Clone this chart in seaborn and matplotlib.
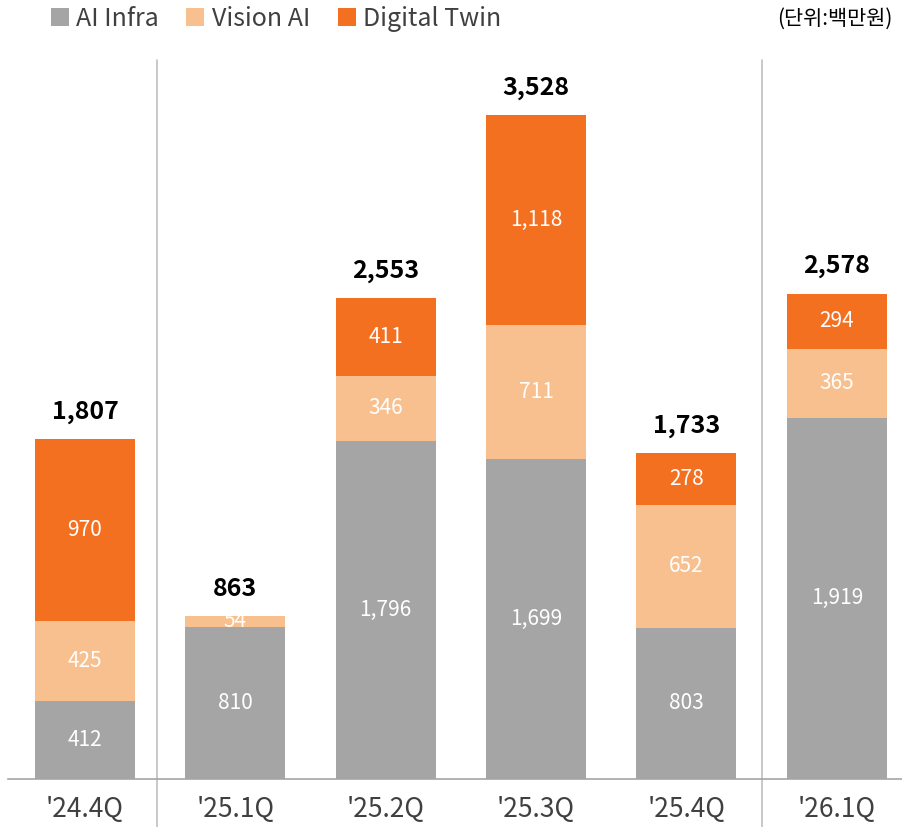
import numpy as np
import pandas as pd
import matplotlib
matplotlib.use("Agg")
import matplotlib.pyplot as plt
from matplotlib.patches import Patch
import seaborn as sns

# data (unit: million KRW)
quarters = ["'24.4Q", "'25.1Q", "'25.2Q", "'25.3Q", "'25.4Q", "'26.1Q"]
ai_infra = [412, 810, 1796, 1699, 803, 1919]
vision_ai = [425, 54, 346, 711, 652, 365]
digital_twin = [970, 0, 411, 1118, 278, 294]
totals = [1807, 863, 2553, 3528, 1733, 2578]

series_names = ["AI Infra", "Vision AI", "Digital Twin"]
colors = ["#A5A5A5", "#F9C08F", "#F37021"]

sns.set_theme(style="white")
plt.rcParams["font.family"] = ["Noto Sans CJK KR", "DejaVu Sans"]

fig = plt.figure(figsize=(9.03, 8.27), dpi=100)
ax = fig.add_axes([8 / 903, 1 - 779 / 827, 1 - 8 / 903, (779 - 60) / 827])

layers = [ai_infra, vision_ai, digital_twin]
bottom = np.zeros(len(quarters))
for name, vals, col in zip(series_names, layers, colors):
    df = pd.DataFrame({"quarter": quarters, "value": vals})
    sns.barplot(data=df, x="quarter", y="value", order=quarters, color=col,
                width=0.665, bottom=bottom, ax=ax, saturation=1, linewidth=0)
    for i, v in enumerate(vals):
        if v > 0:
            ax.text(i, bottom[i] + v / 2, f"{v:,}", ha="center", va="center",
                    color="white", fontsize=15)
    bottom = bottom + np.array(vals)

for i, t in enumerate(totals):
    ax.annotate(f"{t:,}", (i, bottom[i]), xytext=(0, 11), textcoords="offset points",
                ha="center", va="bottom", fontsize=18, fontweight="bold", color="black")

ax.set_xlim(-0.512, 5.44)
ax.set_ylim(0, 3820)
ax.set_xlabel("")
ax.set_ylabel("")
ax.set_yticks([])
ax.tick_params(axis="x", length=0, pad=12, labelsize=19, labelcolor="#404040")
for s in ["top", "right", "left"]:
    ax.spines[s].set_visible(False)
ax.spines["bottom"].set_color("#A6A6A6")
ax.spines["bottom"].set_linewidth(1.2)

# separators between years
for xs in [0.48, 4.5]:
    ax.axvline(xs, ymin=-0.07, ymax=1, color="#BFBFBF", linewidth=1.2, clip_on=False)

handles = [Patch(facecolor=c, edgecolor="none") for c in colors]
fig.legend(handles, series_names, loc="center left", bbox_to_anchor=(28 / 903, 1 - 19 / 827),
           ncol=3, frameon=False, fontsize=18, handlelength=0.72, handleheight=0.72,
           handletextpad=0.3, columnspacing=1.1, labelcolor="#404040")

fig.text(893 / 903, 1 - 19 / 827, "(단위:백만원)", ha="right", va="center", fontsize=15, color="black")

fig.savefig("out.png", dpi=100)
